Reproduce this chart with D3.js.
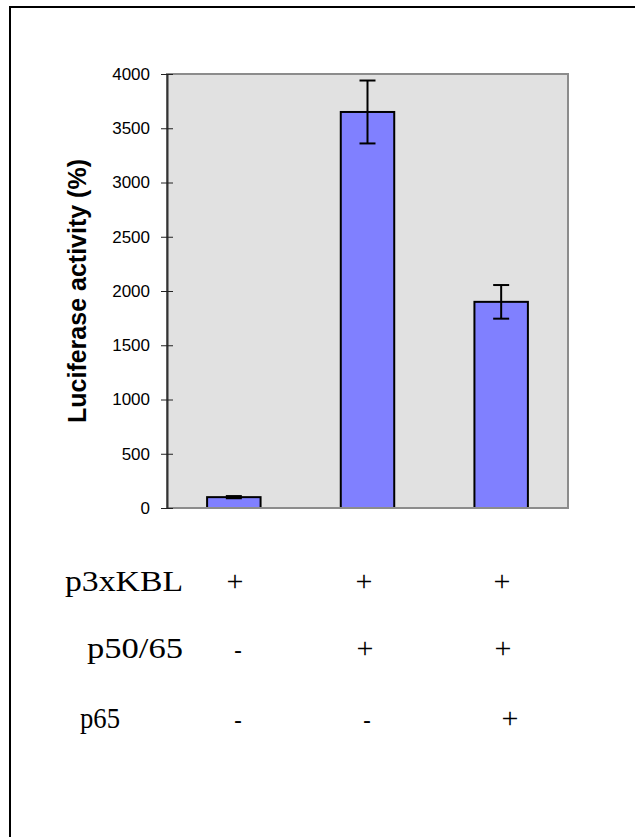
<!DOCTYPE html>
<html>
<head>
<meta charset="utf-8">
<script src="https://cdn.jsdelivr.net/npm/d3@7"></script>
<style>
  html, body { margin: 0; padding: 0; background: #fff; }
  svg { display: block; }
</style>
</head>
<body>
<svg id="chart" width="635" height="837"></svg>
<script>
// Luciferase reporter activity for the three transfection conditions
const conditions = ["A", "B", "C"];
const activity = [100, 3650, 1900];
const errors = [10, 290, 155];
const yTicks = [0, 500, 1000, 1500, 2000, 2500, 3000, 3500, 4000];

// Transfection table below the chart
const rowLabels = ["p3xKBL", "p50/65", "p65"];
const rowMarks = [
  ["+", "+", "+"],
  ["-", "+", "+"],
  ["-", "-", "+"]
];

const svg = d3.select("#chart");

// Outer frame
svg.append("path")
  .attr("d", "M10,840 L10,7 L640,7")
  .attr("fill", "none")
  .attr("stroke", "#000")
  .attr("stroke-width", 2);

const plot = { left: 167, right: 568, top: 74, bottom: 508 };

const x = d3.scaleBand()
  .domain(conditions)
  .range([plot.left, plot.right])
  .paddingInner(0.6)
  .paddingOuter(0.3);

const y = d3.scaleLinear()
  .domain([0, 4000])
  .range([plot.bottom, plot.top]);

// Plot area background and frame
svg.append("rect")
  .attr("x", plot.left)
  .attr("y", plot.top)
  .attr("width", plot.right - plot.left)
  .attr("height", plot.bottom - plot.top)
  .attr("fill", "#e1e1e1")
  .attr("stroke", "#8c8c8c")
  .attr("stroke-width", 2);

// Bars
svg.append("g").selectAll("rect")
  .data(activity)
  .join("rect")
  .attr("x", (d, i) => x(conditions[i]))
  .attr("y", d => y(d))
  .attr("width", x.bandwidth())
  .attr("height", d => y(0) - y(d))
  .attr("fill", "#8080ff")
  .attr("stroke", "#000")
  .attr("stroke-width", 2);

// Error bars
const eb = svg.append("g").attr("stroke", "#000").attr("stroke-width", 2);
activity.forEach((v, i) => {
  const cx = x(conditions[i]) + x.bandwidth() / 2;
  const cap = 8;
  eb.append("line").attr("x1", cx).attr("x2", cx).attr("y1", y(v + errors[i])).attr("y2", y(v - errors[i]));
  eb.append("line").attr("x1", cx - cap).attr("x2", cx + cap).attr("y1", y(v + errors[i])).attr("y2", y(v + errors[i]));
  eb.append("line").attr("x1", cx - cap).attr("x2", cx + cap).attr("y1", y(v - errors[i])).attr("y2", y(v - errors[i]));
});

// Bottom axis line (grey)
svg.append("line")
  .attr("x1", plot.left).attr("x2", plot.right)
  .attr("y1", plot.bottom).attr("y2", plot.bottom)
  .attr("stroke", "#8c8c8c").attr("stroke-width", 2);

// Y axis with crossing tick marks
const yAxis = d3.axisLeft(y)
  .tickValues(yTicks)
  .tickFormat(d3.format("d"))
  .tickSizeInner(6)
  .tickSizeOuter(0)
  .tickPadding(11);

const gy = svg.append("g")
  .attr("transform", `translate(${plot.left},0)`)
  .call(yAxis);
gy.select(".domain").attr("stroke", "#333").attr("stroke-width", 2);
gy.selectAll(".tick line")
  .attr("x1", -6).attr("x2", 6)
  .attr("stroke", "#222").attr("stroke-width", 1);
gy.selectAll(".tick text")
  .attr("font-family", "Arial, 'Liberation Sans', sans-serif")
  .attr("font-size", 17)
  .attr("fill", "#000");

// Y axis title
svg.append("text")
  .attr("transform", "translate(86,291) rotate(-90)")
  .attr("text-anchor", "middle")
  .attr("font-family", "Arial, 'Liberation Sans', sans-serif")
  .attr("font-weight", "bold")
  .attr("font-size", 25)
  .text("Luciferase activity (%)");

// Transfection table
const rowY = [591, 658, 728];
const labelLeft = [65, 87, 80];
const labelRight = [183, 183, 120];
const markX = [
  [235, 364, 502],
  [238, 365, 503],
  [238, 367, 510]
];
const table = svg.append("g")
  .attr("font-family", "'Times New Roman', 'Liberation Serif', serif")
  .attr("font-size", 30)
  .attr("fill", "#000");

rowLabels.forEach((lab, r) => {
  table.append("text")
    .attr("x", labelLeft[r]).attr("y", rowY[r])
    .attr("textLength", labelRight[r] - labelLeft[r])
    .attr("lengthAdjust", "spacingAndGlyphs")
    .text(lab);
  rowMarks[r].forEach((m, c) => {
    table.append("text")
      .attr("x", markX[r][c]).attr("y", rowY[r])
      .attr("text-anchor", "middle")
      .attr("font-family", m === "-" ? "Arial, 'Liberation Sans', sans-serif" : null)
      .attr("font-size", m === "-" ? 24 : null)
      .text(m);
  });
});
</script>
</body>
</html>
